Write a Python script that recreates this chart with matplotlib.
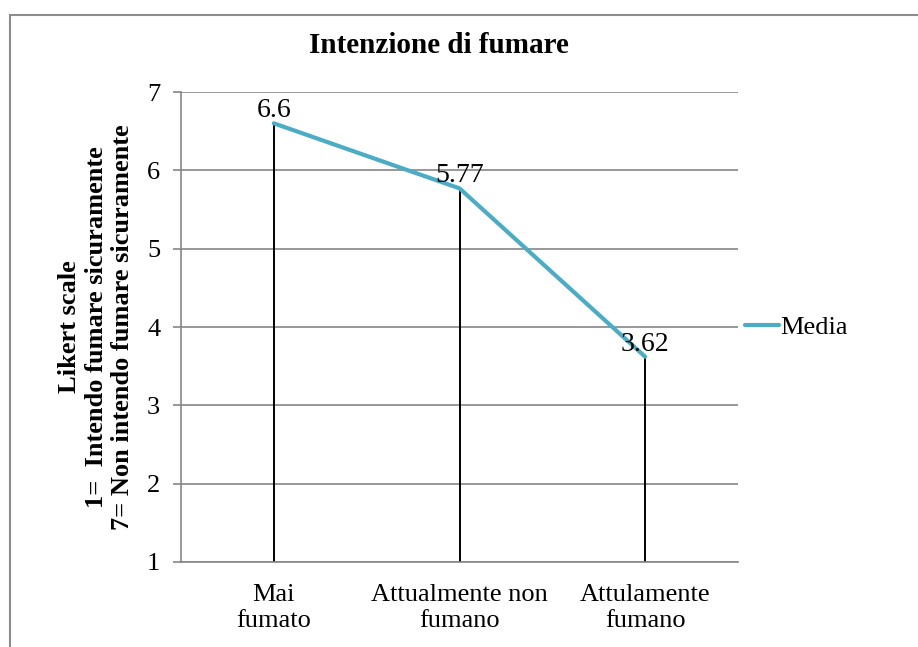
import matplotlib.pyplot as plt
from matplotlib.patches import Rectangle

# data
categorie = ['Mai\nfumato', 'Attualmente non\nfumano', 'Attulamente\nfumano']
media = [6.6, 5.77, 3.62]
etichette = ['6.6', '5.77', '3.62']
y_ticks = [1, 2, 3, 4, 5, 6, 7]

plt.rcParams['font.family'] = ['Liberation Serif', 'DejaVu Serif']

fig = plt.figure(figsize=(9.18, 6.47), dpi=100)
W, H = 918, 647

# chart frame (Excel style)
fig.patches.append(Rectangle((9.5 / W, -0.1), 1.2, (H - 14.5) / H + 0.1,
                             transform=fig.transFigure, fill=False,
                             edgecolor='#8c8c8c', linewidth=1.5))

ax = fig.add_axes([181 / W, 1 - 562 / H, (738 - 181) / W, (562 - 92) / H])

x = list(range(len(categorie)))
ax.set_xlim(-0.5, len(categorie) - 0.5)
ax.set_ylim(1, 7)
ax.set_yticks(y_ticks)
ax.yaxis.grid(True, color='#868686', linewidth=1.2)
ax.set_axisbelow(True)

# drop lines
ax.vlines(x, 1, media, color='black', linewidth=1.4, zorder=2)
ax.plot(x, media, color='#4BACC6', linewidth=3, label='Media', zorder=3,
        solid_capstyle='round')

for xi, v, t in zip(x, media, etichette):
    ax.annotate(t, (xi, v), xytext=(0, 4.5), textcoords='offset points',
                ha='center', va='baseline', fontsize=20)

ax.set_xticks(x)
ax.set_xticklabels(categorie, fontsize=19, linespacing=1.25)
ax.tick_params(axis='x', length=0, pad=16)
ax.tick_params(axis='y', labelsize=19, length=6, color='#868686', width=1.2, pad=9)

for s in ['top', 'right']:
    ax.spines[s].set_visible(False)
for s in ['left', 'bottom']:
    ax.spines[s].set_color('#868686')
    ax.spines[s].set_linewidth(1.2)

# title centred on the chart area, not on the plot area
fig.text(439 / W, 1 - 53 / H, 'Intenzione di fumare', fontsize=21,
         fontweight='bold', ha='center', va='baseline')
ax.set_ylabel('Likert scale\n1=  Intendo fumare sicuramente\n7= Non intendo fumare sicuramente',
              fontsize=19, fontweight='bold', labelpad=9, linespacing=1.2)

ax.legend(loc='center left', bbox_to_anchor=(1.0, 0.5), frameon=False,
          fontsize=19, handlelength=1.3, handletextpad=0.05,
          borderpad=0, borderaxespad=0.25)

fig.savefig('out.png', dpi=100)
